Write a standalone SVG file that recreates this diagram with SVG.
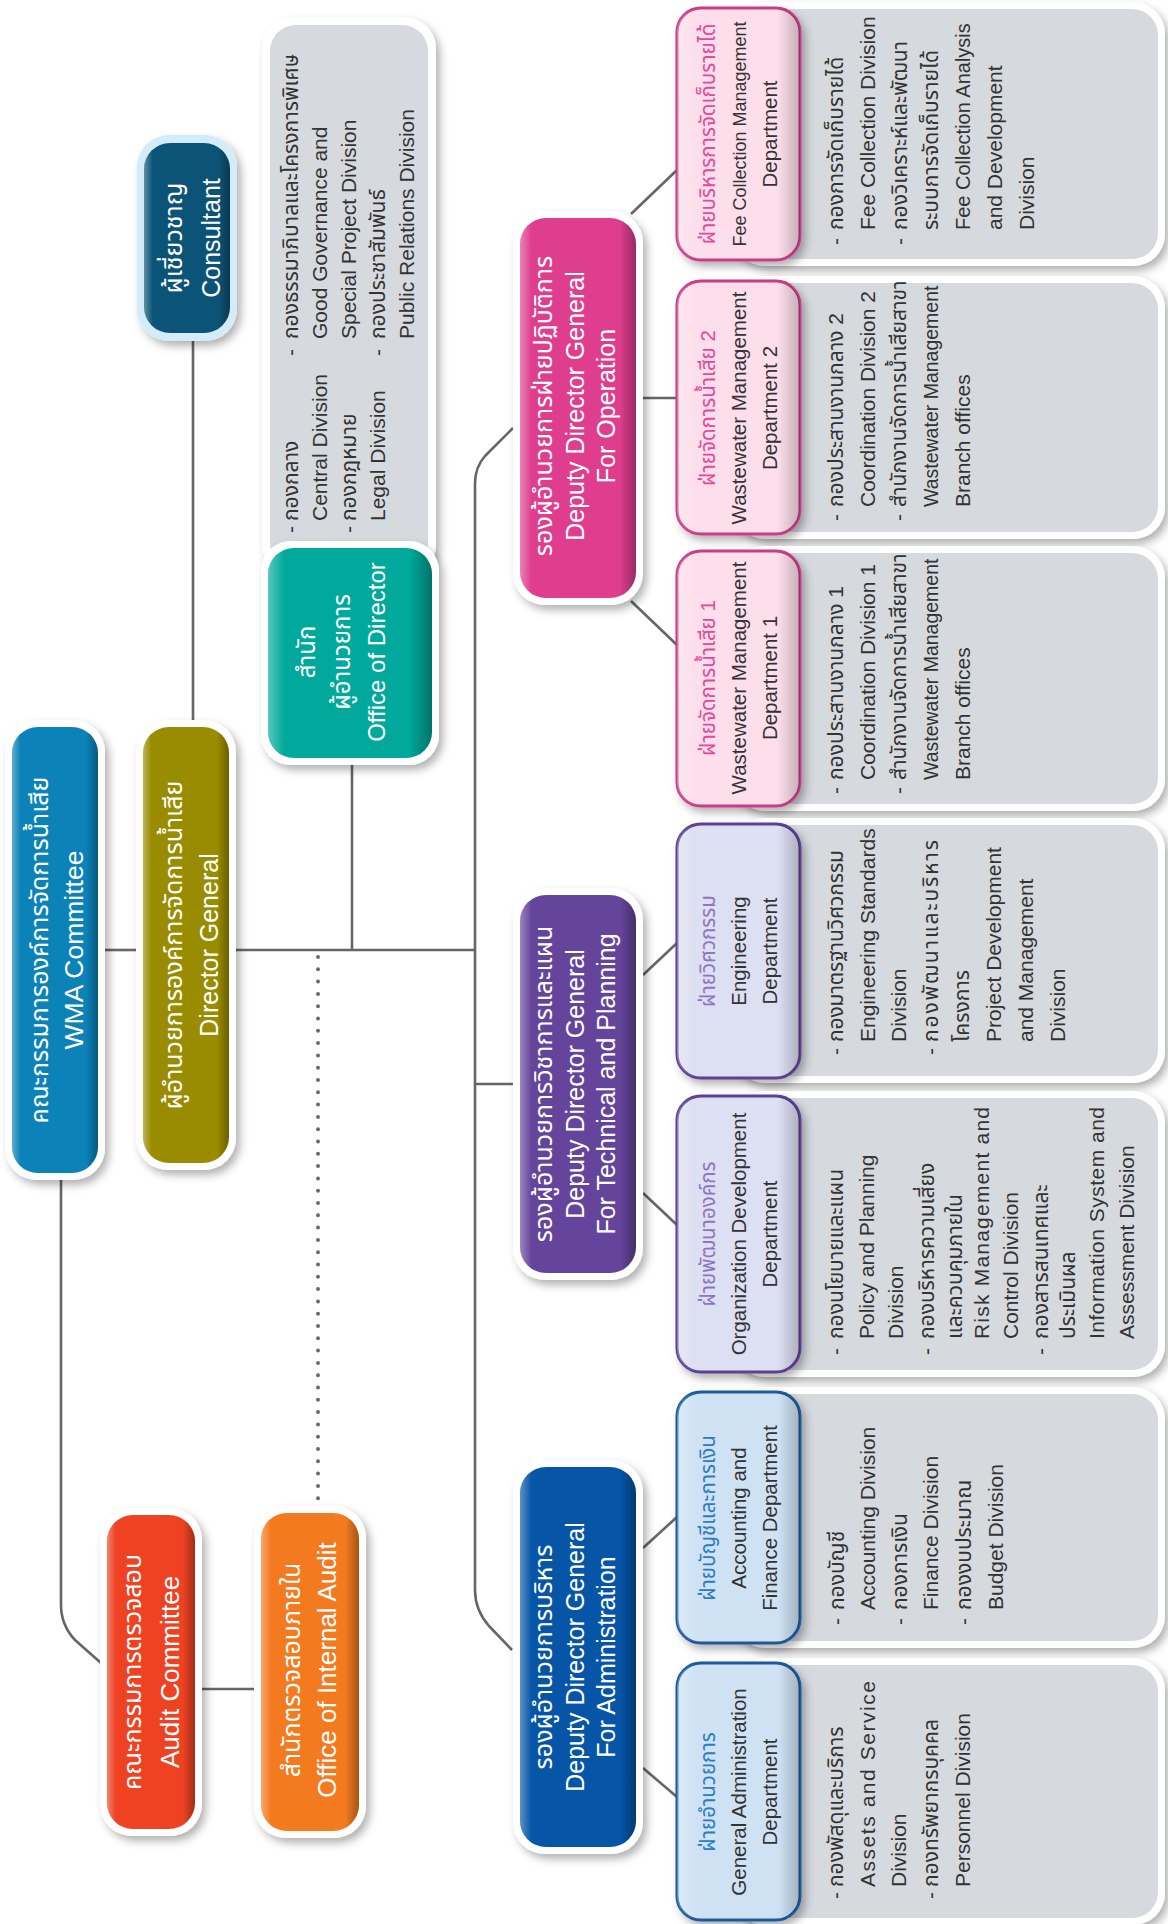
<svg xmlns="http://www.w3.org/2000/svg" width="1168" height="1924" viewBox="0 0 1168 1924">
<defs>
<style>
.ln{stroke:#666;stroke-width:2.6;fill:none}
.dot{stroke:#6a6a6a;stroke-width:4;stroke-linecap:round;stroke-dasharray:0 12.3;fill:none}
.ring{fill:#fff;filter:url(#sh)}
.gl{fill:url(#gl)}
.gl2{fill:url(#gl2)}
.gray{fill:#D6DADF}
.t{font-family:"Liberation Sans","Noto Sans Thai","Noto Sans","DejaVu Sans",sans-serif}
.c{text-anchor:middle}
.w{fill:#fff}
.b{font-size:25px}
.d{font-size:20.5px;fill:#333}
.li{font-size:21px;fill:#333}
.pk{fill:#E5489B}
.pu{fill:#8F75C0}
.bl{fill:#2C7CC3}
.dp{stroke-width:3}
</style>
<filter id="sh" x="-20%" y="-20%" width="140%" height="140%"><feDropShadow dx="4" dy="5" stdDeviation="4" flood-color="#000" flood-opacity="0.3"/></filter>
<linearGradient id="gl" x1="0" y1="0" x2="1" y2="0">
<stop offset="0" stop-color="#fff" stop-opacity=".35"/>
<stop offset=".1" stop-color="#fff" stop-opacity="0"/>
<stop offset=".86" stop-color="#000" stop-opacity="0"/>
<stop offset="1" stop-color="#000" stop-opacity=".32"/>
</linearGradient>
<linearGradient id="gl2" x1="0" y1="0" x2="1" y2="0">
<stop offset="0" stop-color="#fff" stop-opacity=".3"/>
<stop offset=".15" stop-color="#fff" stop-opacity="0"/>
<stop offset=".82" stop-color="#000" stop-opacity="0"/>
<stop offset="1" stop-color="#000" stop-opacity=".22"/>
</linearGradient>
</defs>
<rect width="1168" height="1924" fill="#fff"/>

<g id="connectors">
<path class="ln" d="M193 341V720"/>
<path class="ln" d="M105 950H136"/>
<path class="ln" d="M236 950H475"/>
<path class="ln" d="M352 765V950"/>
<path class="ln" d="M513 428L485 456Q475 467 475 484V1590Q475 1610 489 1626L512 1650"/>
<path class="ln" d="M475 1084H513"/>
<path class="ln" d="M61 1180V1605Q61 1625 75 1640L101 1663"/>
<path class="ln" d="M202 1689H254"/>
<path class="dot" d="M318 957V1506"/>
<path class="ln" d="M631 214L677 170"/>
<path class="ln" d="M643 398H677"/>
<path class="ln" d="M631 601L677 645"/>
<path class="ln" d="M643 975L677 943"/>
<path class="ln" d="M643 1193L677 1225"/>
<path class="ln" d="M643 1548L677 1517"/>
<path class="ln" d="M643 1768L677 1797"/>
</g>

<g id="wma">
<rect class="ring" x="5" y="720" width="100" height="460" rx="32"/>
<rect x="12" y="727" width="86" height="446" rx="26" fill="#0B82B8"/>
<rect class="gl" x="12" y="727" width="86" height="446" rx="26"/>
<text class="t c w b" transform="translate(48 950) rotate(-90)">คณะกรรมการองค์การจัดการน้ำเสีย</text>
<text class="t c w" style="font-size:26.5px" transform="translate(83 950) rotate(-90)">WMA Committee</text>
</g>

<g id="director-general">
<rect class="ring" x="136" y="720" width="100" height="450" rx="32"/>
<rect x="143" y="727" width="86" height="436" rx="26" fill="#9A8C00"/>
<rect class="gl" x="143" y="727" width="86" height="436" rx="26"/>
<text class="t c w b" transform="translate(182 945) rotate(-90)">ผู้อำนวยการองค์การจัดการน้ำเสีย</text>
<text class="t c w b" transform="translate(218 945) rotate(-90)">Director General</text>
</g>

<g id="consultant">
<rect x="137" y="135" width="100" height="206" rx="32" fill="#D3ECF8" filter="url(#sh)"/>
<rect x="144" y="143" width="86" height="190" rx="26" fill="#0C5477"/>
<rect class="gl" x="144" y="143" width="86" height="190" rx="26"/>
<text class="t c w b" transform="translate(182 238) rotate(-90)">ผู้เชี่ยวชาญ</text>
<text class="t c w b" transform="translate(220 238) rotate(-90)">Consultant</text>
</g>

<g id="office-of-director-list">
<rect class="ring" x="262" y="17" width="174" height="560" rx="32"/>
<rect class="gray" x="270" y="25" width="158" height="545" rx="26"/>
<g class="t li">
<text transform="translate(298 533) rotate(-90)">-</text>
<text transform="translate(298 521) rotate(-90)">กองกลาง</text>
<text transform="translate(327 521) rotate(-90)">Central Division</text>
<text transform="translate(356 533) rotate(-90)">-</text>
<text transform="translate(356 521) rotate(-90)">กองกฎหมาย</text>
<text transform="translate(385 521) rotate(-90)">Legal Division</text>
<text transform="translate(298 356) rotate(-90)">-</text>
<text transform="translate(298 339) rotate(-90)">กองธรรมาภิบาลและโครงการพิเศษ</text>
<text transform="translate(327 339) rotate(-90)">Good Governance and</text>
<text transform="translate(356 339) rotate(-90)">Special Project Division</text>
<text transform="translate(385 356) rotate(-90)">-</text>
<text transform="translate(385 339) rotate(-90)">กองประชาสัมพันธ์</text>
<text transform="translate(414 339) rotate(-90)">Public Relations Division</text>
</g>
</g>

<g id="office-of-director">
<rect class="ring" x="261" y="541" width="178" height="224" rx="30"/>
<rect x="268" y="548" width="164" height="210" rx="26" fill="#00A99B"/>
<rect class="gl" x="268" y="548" width="164" height="210" rx="26"/>
<text class="t c w" style="font-size:24px" transform="translate(315 652) rotate(-90)">สำนัก</text>
<text class="t c w" style="font-size:24px" transform="translate(350 652) rotate(-90)">ผู้อำนวยการ</text>
<text class="t c w" style="font-size:24px" transform="translate(385 652) rotate(-90)">Office of Director</text>
</g>

<g id="audit-committee">
<rect class="ring" x="100" y="1508" width="102" height="328" rx="32"/>
<rect x="107" y="1515" width="88" height="314" rx="26" fill="#EF4223"/>
<rect class="gl" x="107" y="1515" width="88" height="314" rx="26"/>
<text class="t c w b" transform="translate(141 1672) rotate(-90)">คณะกรรมการตรวจสอบ</text>
<text class="t c w" style="font-size:26px" transform="translate(179 1672) rotate(-90)">Audit Committee</text>
</g>

<g id="internal-audit">
<rect class="ring" x="254" y="1506" width="112" height="332" rx="32"/>
<rect x="261" y="1513" width="98" height="318" rx="26" fill="#F47A20"/>
<rect class="gl" x="261" y="1513" width="98" height="318" rx="26"/>
<text class="t c w b" transform="translate(300 1670) rotate(-90)">สำนักตรวจสอบภายใน</text>
<text class="t c w" style="font-size:26px" transform="translate(336 1670) rotate(-90)">Office of Internal Audit</text>
</g>

<g id="deputy-operation">
<rect class="ring" x="513" y="211" width="130" height="394" rx="32"/>
<rect x="520" y="218" width="116" height="380" rx="26" fill="#DF3E8E"/>
<rect class="gl" x="520" y="218" width="116" height="380" rx="26"/>
<text class="t c w b" transform="translate(552 406) rotate(-90)">รองผู้อำนวยการฝ่ายปฏิบัติการ</text>
<text class="t c w b" transform="translate(584 406) rotate(-90)">Deputy Director General</text>
<text class="t c w b" transform="translate(615 406) rotate(-90)">For Operation</text>
</g>

<g id="deputy-technical">
<rect class="ring" x="513" y="888" width="130" height="392" rx="32"/>
<rect x="520" y="895" width="116" height="378" rx="26" fill="#65459B"/>
<rect class="gl" x="520" y="895" width="116" height="378" rx="26"/>
<text class="t c w b" transform="translate(552 1084) rotate(-90)">รองผู้อำนวยการวิชาการและแผน</text>
<text class="t c w b" transform="translate(584 1084) rotate(-90)">Deputy Director General</text>
<text class="t c w b" transform="translate(615 1084) rotate(-90)">For Technical and Planning</text>
</g>

<g id="deputy-administration">
<rect class="ring" x="513" y="1460" width="130" height="394" rx="32"/>
<rect x="520" y="1467" width="116" height="380" rx="26" fill="#0755A7"/>
<rect class="gl" x="520" y="1467" width="116" height="380" rx="26"/>
<text class="t c w b" transform="translate(552 1657) rotate(-90)">รองผู้อำนวยการบริหาร</text>
<text class="t c w b" transform="translate(584 1657) rotate(-90)">Deputy Director General</text>
<text class="t c w b" transform="translate(615 1657) rotate(-90)">For Administration</text>
</g>

<g id="fee-collection">
<rect class="ring" x="733" y="2" width="432" height="264" rx="32"/>
<rect class="gray" x="740" y="9" width="418" height="250" rx="26"/>
<rect x="677" y="8" width="123" height="252" rx="24" fill="#FDDEEB" stroke="#C73D86" class="dp" filter="url(#sh)"/>
<rect class="gl2" x="677" y="8" width="123" height="252" rx="24"/>
<text class="t c d pk" transform="translate(715 134) rotate(-90)">ฝ่ายบริหารการจัดเก็บรายได้</text>
<text class="t c d" style="font-size:18px" transform="translate(746 134) rotate(-90)">Fee Collection Management</text>
<text class="t c d" transform="translate(777 134) rotate(-90)">Department</text>
<g class="t li">
<text transform="translate(843 245) rotate(-90)">-</text>
<text transform="translate(843 230) rotate(-90)">กองการจัดเก็บรายได้</text>
<text transform="translate(875 230) rotate(-90)">Fee Collection Division</text>
<text transform="translate(907 245) rotate(-90)">-</text>
<text transform="translate(907 230) rotate(-90)">กองวิเคราะห์และพัฒนา</text>
<text transform="translate(938 230) rotate(-90)">ระบบการจัดเก็บรายได้</text>
<text transform="translate(970 230) rotate(-90)" style="font-size:20px">Fee Collection Analysis</text>
<text transform="translate(1002 230) rotate(-90)">and Development</text>
<text transform="translate(1034 230) rotate(-90)">Division</text>
</g>
</g>

<g id="wastewater-2">
<rect class="ring" x="733" y="276" width="432" height="263" rx="32"/>
<rect class="gray" x="740" y="283" width="418" height="249" rx="26"/>
<rect x="677" y="281" width="123" height="253" rx="24" fill="#FDDEEB" stroke="#C73D86" class="dp" filter="url(#sh)"/>
<rect class="gl2" x="677" y="281" width="123" height="253" rx="24"/>
<text class="t c d pk" transform="translate(715 408) rotate(-90)">ฝ่ายจัดการน้ำเสีย 2</text>
<text class="t c d" transform="translate(746 408) rotate(-90)">Wastewater Management</text>
<text class="t c d" transform="translate(777 408) rotate(-90)">Department 2</text>
<g class="t li">
<text transform="translate(843 521) rotate(-90)">-</text>
<text transform="translate(843 507) rotate(-90)">กองประสานงานกลาง 2</text>
<text transform="translate(875 507) rotate(-90)">Coordination Division 2</text>
<text transform="translate(906 521) rotate(-90)">-</text>
<text transform="translate(906 507) rotate(-90)">สำนักงานจัดการน้ำเสียสาขา</text>
<text transform="translate(938 507) rotate(-90)" style="font-size:19.5px">Wastewater Management</text>
<text transform="translate(970 507) rotate(-90)">Branch offices</text>
</g>
</g>

<g id="wastewater-1">
<rect class="ring" x="733" y="546" width="432" height="265" rx="32"/>
<rect class="gray" x="740" y="553" width="418" height="251" rx="26"/>
<rect x="677" y="551" width="123" height="255" rx="24" fill="#FDDEEB" stroke="#C73D86" class="dp" filter="url(#sh)"/>
<rect class="gl2" x="677" y="551" width="123" height="255" rx="24"/>
<text class="t c d pk" transform="translate(715 678) rotate(-90)">ฝ่ายจัดการน้ำเสีย 1</text>
<text class="t c d" transform="translate(746 678) rotate(-90)">Wastewater Management</text>
<text class="t c d" transform="translate(777 678) rotate(-90)">Department 1</text>
<g class="t li">
<text transform="translate(843 794) rotate(-90)">-</text>
<text transform="translate(843 780) rotate(-90)">กองประสานงานกลาง 1</text>
<text transform="translate(875 780) rotate(-90)">Coordination Division 1</text>
<text transform="translate(906 794) rotate(-90)">-</text>
<text transform="translate(906 780) rotate(-90)">สำนักงานจัดการน้ำเสียสาขา</text>
<text transform="translate(938 780) rotate(-90)" style="font-size:19.5px">Wastewater Management</text>
<text transform="translate(970 780) rotate(-90)">Branch offices</text>
</g>
</g>

<g id="engineering">
<rect class="ring" x="733" y="818" width="432" height="265" rx="32"/>
<rect class="gray" x="740" y="825" width="418" height="251" rx="26"/>
<rect x="677" y="824" width="123" height="254" rx="24" fill="#DDDFF2" stroke="#5F3F91" class="dp" filter="url(#sh)"/>
<rect class="gl2" x="677" y="824" width="123" height="254" rx="24"/>
<text class="t c d pu" transform="translate(715 951) rotate(-90)">ฝ่ายวิศวกรรม</text>
<text class="t c d" transform="translate(746 951) rotate(-90)">Engineering</text>
<text class="t c d" transform="translate(777 951) rotate(-90)">Department</text>
<g class="t li">
<text transform="translate(843 1055) rotate(-90)">-</text>
<text transform="translate(843 1042) rotate(-90)" textLength="192" lengthAdjust="spacing">กองมาตรฐานวิศวกรรม</text>
<text transform="translate(875 1042) rotate(-90)">Engineering Standards</text>
<text transform="translate(906 1042) rotate(-90)">Division</text>
<text transform="translate(938 1055) rotate(-90)">-</text>
<text transform="translate(938 1042) rotate(-90)" textLength="202" lengthAdjust="spacing">กองพัฒนาและบริหาร</text>
<text transform="translate(969 1042) rotate(-90)">โครงการ</text>
<text transform="translate(1001 1042) rotate(-90)">Project Development</text>
<text transform="translate(1033 1042) rotate(-90)">and Management</text>
<text transform="translate(1065 1042) rotate(-90)">Division</text>
</g>
</g>

<g id="organization-development">
<rect class="ring" x="733" y="1091" width="432" height="286" rx="32"/>
<rect class="gray" x="740" y="1098" width="418" height="272" rx="26"/>
<rect x="677" y="1096" width="123" height="276" rx="24" fill="#DDDFF2" stroke="#5F3F91" class="dp" filter="url(#sh)"/>
<rect class="gl2" x="677" y="1096" width="123" height="276" rx="24"/>
<text class="t c d pu" transform="translate(715 1234) rotate(-90)">ฝ่ายพัฒนาองค์กร</text>
<text class="t c d" transform="translate(746 1234) rotate(-90)">Organization Development</text>
<text class="t c d" transform="translate(777 1234) rotate(-90)">Department</text>
<g class="t li">
<text transform="translate(843 1355) rotate(-90)">-</text>
<text transform="translate(843 1339) rotate(-90)">กองนโยบายและแผน</text>
<text transform="translate(874 1339) rotate(-90)">Policy and Planning</text>
<text transform="translate(903 1339) rotate(-90)">Division</text>
<text transform="translate(934 1355) rotate(-90)">-</text>
<text transform="translate(934 1339) rotate(-90)">กองบริหารความเสี่ยง</text>
<text transform="translate(962 1339) rotate(-90)">และควบคุมภายใน</text>
<text transform="translate(989 1339) rotate(-90)" textLength="232" lengthAdjust="spacing">Risk Management and</text>
<text transform="translate(1018 1339) rotate(-90)">Control Division</text>
<text transform="translate(1048 1355) rotate(-90)">-</text>
<text transform="translate(1048 1339) rotate(-90)">กองสารสนเทศและ</text>
<text transform="translate(1075 1339) rotate(-90)">ประเมินผล</text>
<text transform="translate(1104 1339) rotate(-90)" textLength="232" lengthAdjust="spacing">Information System and</text>
<text transform="translate(1134 1339) rotate(-90)">Assessment Division</text>
</g>
</g>

<g id="accounting-finance">
<rect class="ring" x="733" y="1387" width="432" height="261" rx="32"/>
<rect class="gray" x="740" y="1394" width="418" height="247" rx="26"/>
<rect x="677" y="1392" width="123" height="251" rx="24" fill="#CFE2F4" stroke="#1D5A9C" class="dp" filter="url(#sh)"/>
<rect class="gl2" x="677" y="1392" width="123" height="251" rx="24"/>
<text class="t c d bl" transform="translate(715 1518) rotate(-90)">ฝ่ายบัญชีและการเงิน</text>
<text class="t c d" transform="translate(746 1518) rotate(-90)">Accounting and</text>
<text class="t c d" transform="translate(777 1518) rotate(-90)">Finance Department</text>
<g class="t li">
<text transform="translate(844 1625) rotate(-90)">-</text>
<text transform="translate(844 1610) rotate(-90)">กองบัญชี</text>
<text transform="translate(875 1610) rotate(-90)">Accounting Division</text>
<text transform="translate(907 1625) rotate(-90)">-</text>
<text transform="translate(907 1610) rotate(-90)">กองการเงิน</text>
<text transform="translate(938 1610) rotate(-90)">Finance Division</text>
<text transform="translate(971 1625) rotate(-90)">-</text>
<text transform="translate(971 1610) rotate(-90)">กองงบประมาณ</text>
<text transform="translate(1003 1610) rotate(-90)">Budget Division</text>
</g>
</g>

<g id="general-administration">
<rect class="ring" x="733" y="1658" width="432" height="267" rx="32"/>
<rect class="gray" x="740" y="1665" width="418" height="253" rx="26"/>
<rect x="677" y="1663" width="123" height="257" rx="24" fill="#CFE2F4" stroke="#1D5A9C" class="dp" filter="url(#sh)"/>
<rect class="gl2" x="677" y="1663" width="123" height="257" rx="24"/>
<text class="t c d bl" transform="translate(715 1792) rotate(-90)">ฝ่ายอำนวยการ</text>
<text class="t c d" transform="translate(746 1792) rotate(-90)">General Administration</text>
<text class="t c d" transform="translate(777 1792) rotate(-90)">Department</text>
<g class="t li">
<text transform="translate(843 1899) rotate(-90)">-</text>
<text transform="translate(843 1887) rotate(-90)">กองพัสดุและบริการ</text>
<text transform="translate(875 1887) rotate(-90)" textLength="206" lengthAdjust="spacing">Assets and Service</text>
<text transform="translate(906 1887) rotate(-90)">Division</text>
<text transform="translate(938 1899) rotate(-90)">-</text>
<text transform="translate(938 1887) rotate(-90)">กองทรัพยากรบุคคล</text>
<text transform="translate(970 1887) rotate(-90)">Personnel Division</text>
</g>
</g>
</svg>
